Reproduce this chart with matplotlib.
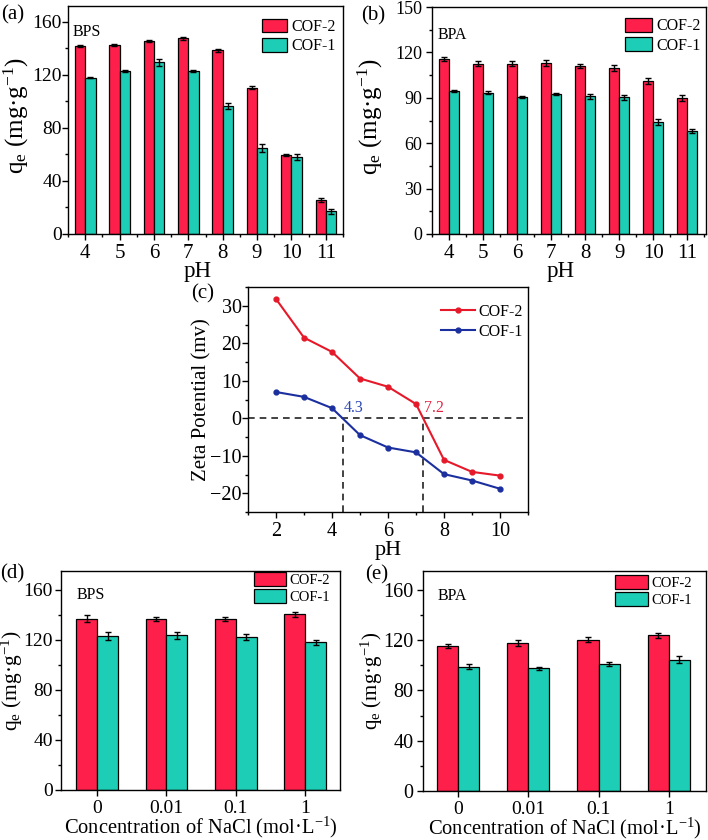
import matplotlib
matplotlib.use('Agg')
import matplotlib.pyplot as plt
import numpy as np
from matplotlib.ticker import AutoMinorLocator, MultipleLocator
from matplotlib.patches import Patch

plt.rcParams['font.family'] = ['Liberation Serif', 'DejaVu Serif']
plt.rcParams['mathtext.fontset'] = 'custom'
plt.rcParams['mathtext.rm'] = 'Liberation Serif'
plt.rcParams['mathtext.it'] = 'Liberation Serif:italic'
plt.rcParams['mathtext.default'] = 'rm'
plt.rcParams['axes.linewidth'] = 1.0

# ---------------- data ----------------
ph_bar = [4, 5, 6, 7, 8, 9, 10, 11]
bps_cof2 = [141.5, 142.5, 145.5, 147.5, 138.5, 110.5, 59.5, 26.0]
bps_cof2_err = [0.8, 0.8, 1.0, 1.0, 1.0, 1.0, 0.8, 1.5]
bps_cof1 = [118.0, 123.0, 129.5, 123.0, 96.5, 65.0, 58.0, 17.0]
bps_cof1_err = [0.6, 0.6, 2.5, 1.0, 2.5, 3.0, 2.5, 2.0]

bpa_cof2 = [115.5, 112.5, 112.5, 113.3, 111.0, 109.5, 100.8, 90.0]
bpa_cof2_err = [1.5, 1.5, 1.5, 2.0, 1.5, 2.0, 2.0, 2.0]
bpa_cof1 = [94.5, 93.5, 90.5, 92.7, 91.0, 90.3, 74.0, 68.0]
bpa_cof1_err = [0.6, 1.0, 0.6, 0.6, 1.5, 1.5, 2.0, 1.2]

ph_zeta = [2, 3, 4, 5, 6, 7, 8, 9, 10]
zeta_cof2 = [31.8, 21.5, 17.7, 10.6, 8.4, 3.8, -11.1, -14.3, -15.3]
zeta_cof1 = [7.0, 5.7, 2.7, -4.5, -7.8, -9.1, -14.9, -16.6, -18.8]
pzc_cof1 = 4.4
pzc_cof2 = 7.25
pzc_labels = ['4.3', '7.2']

nacl_labels = ['0', '0.01', '0.1', '1']
nacl_bps_cof2 = [137.0, 136.5, 136.5, 140.5]
nacl_bps_cof2_err = [2.5, 1.5, 1.5, 2.0]
nacl_bps_cof1 = [123.0, 123.5, 122.5, 118.0]
nacl_bps_cof1_err = [3.5, 3.0, 2.5, 2.0]
nacl_bpa_cof2 = [115.5, 118.0, 120.3, 124.0]
nacl_bpa_cof2_err = [1.5, 2.5, 2.0, 2.0]
nacl_bpa_cof1 = [99.0, 97.5, 101.0, 104.5]
nacl_bpa_cof1_err = [2.0, 1.5, 1.5, 2.5]

series_names = ['COF-2', 'COF-1']

RED = '#FF1F4B'
TEAL = '#1ECDB5'
LRED = '#E5192A'
LBLUE = '#1B2F9E'

W, H = 708, 840
fig = plt.figure(figsize=(W / 100, H / 100), dpi=100)


def add_ax(l, t, r, b):
    return fig.add_axes([l / W, 1 - b / H, (r - l) / W, (b - t) / H])


def style(ax, xfs, yfs, xpad, ypad):
    ax.tick_params(which='both', direction='out', top=False, right=False,
                   width=1.0)
    ax.tick_params(axis='x', labelsize=xfs, pad=xpad)
    ax.tick_params(axis='y', labelsize=yfs, pad=ypad)
    ax.tick_params(which='major', length=4)
    ax.tick_params(which='minor', length=2.2)


YLAB = r'q$_\mathrm{e}$ (mg·g$^{\mathrm{-1}}$)'


def bar_panel(ax, x, c2, c2e, c1, c1e, xticklabels, ylim, ymajor, xlim, tag,
              tagpos, legpos, legsize, hl, hh, ls):
    x = np.asarray(x, dtype=float)
    w = 0.3
    ekw = dict(elinewidth=1.0, capthick=1.0, ecolor='black')
    ax.bar(x - w / 2, c2, w, color=RED, edgecolor='black', linewidth=0.9,
           yerr=c2e, capsize=2.5, error_kw=ekw, zorder=2)
    ax.bar(x + w / 2, c1, w, color=TEAL, edgecolor='black', linewidth=0.9,
           yerr=c1e, capsize=2.5, error_kw=ekw, zorder=2)
    ax.set_xlim(*xlim)
    ax.set_ylim(*ylim)
    ax.set_xticks(x)
    ax.set_xticklabels(xticklabels)
    ax.yaxis.set_major_locator(MultipleLocator(ymajor))
    ax.yaxis.set_minor_locator(AutoMinorLocator(2))
    ax.text(tagpos[0], tagpos[1], tag, transform=ax.transAxes, fontsize=11.5,
            va='center', ha='left')
    handles = [Patch(facecolor=RED, edgecolor='black', linewidth=0.9),
               Patch(facecolor=TEAL, edgecolor='black', linewidth=0.9)]
    ax.legend(handles, series_names, loc='upper left', bbox_to_anchor=legpos,
              frameon=False, fontsize=legsize, borderpad=0, borderaxespad=0,
              handlelength=hl, handleheight=hh, handletextpad=0.25,
              labelspacing=ls)


# (a)
axa = add_ax(68, 6, 343, 234)
bar_panel(axa, ph_bar, bps_cof2, bps_cof2_err, bps_cof1, bps_cof1_err,
          [str(p) for p in ph_bar], (0, 172), 40, (3.65, 11.5), 'BPS',
          (0.015, 0.885), (0.705, 0.945), 11.5, 1.6, 0.95, 0.2)
axa.set_xticks(np.arange(3.5, 11.6, 1.0), minor=True)
style(axa, 15, 14, 3.5, 0.5)
axa.set_ylabel(YLAB, fontsize=18)
axa.yaxis.set_label_coords(-0.135, 0.52)
axa.set_xlabel('pH', fontsize=16.5)
axa.xaxis.set_label_coords(0.47, -0.118)

# (b)
axb = add_ax(432, 7, 706, 234)
bar_panel(axb, ph_bar, bpa_cof2, bpa_cof2_err, bpa_cof1, bpa_cof1_err,
          [str(p) for p in ph_bar], (0, 150), 30, (3.65, 11.55), 'BPA',
          (0.02, 0.876), (0.704, 0.952), 11.5, 1.7, 0.95, 0.2)
axb.set_xticks(np.arange(3.5, 11.6, 1.0), minor=True)
style(axb, 15, 13, 3.5, 3)
axb.set_ylabel(YLAB, fontsize=18)
axb.yaxis.set_label_coords(-0.17, 0.52)
axb.set_xlabel('pH', fontsize=16.5)
axb.xaxis.set_label_coords(0.47, -0.118)

# (c)
axc = add_ax(248, 287, 528, 512)
axc.plot(ph_zeta, zeta_cof2, '-o', color=LRED, lw=1.5, ms=3.5,
         mfc=LRED, mec=LRED, label=series_names[0], zorder=3)
axc.plot(ph_zeta, zeta_cof1, '-o', color=LBLUE, lw=1.5, ms=3.5,
         mfc=LBLUE, mec=LBLUE, label=series_names[1], zorder=3)
axc.set_xlim(1, 11)
axc.set_ylim(-25, 35)
axc.axhline(0, color='#222222', lw=1.2, ls=(0, (4, 3)), zorder=1)
axc.plot([pzc_cof1, pzc_cof1], [-25, 0], color='#222222', lw=1.2,
         ls=(0, (4, 3)), zorder=1)
axc.plot([pzc_cof2, pzc_cof2], [-25, 0], color='#222222', lw=1.2,
         ls=(0, (4, 3)), zorder=1)
axc.text(pzc_cof1 + 0.02, 2.8, pzc_labels[0], color='#2A45B5', fontsize=11.5,
         va='center', ha='left')
axc.text(pzc_cof2 + 0.05, 2.8, pzc_labels[1], color='#E52040', fontsize=11.5,
         va='center', ha='left')
axc.xaxis.set_major_locator(MultipleLocator(2))
axc.xaxis.set_minor_locator(AutoMinorLocator(2))
axc.set_yticks([-20, -10, 0, 10, 20, 30])
axc.yaxis.set_minor_locator(AutoMinorLocator(2))
style(axc, 14.5, 14.5, 3.5, 0.5)
axc.set_xlabel('pH', fontsize=16)
axc.xaxis.set_label_coords(0.5, -0.13)
axc.set_ylabel('Zeta Potential (mv)', fontsize=15)
axc.yaxis.set_label_coords(-0.13, 0.5)
axc.legend(loc='upper left', bbox_to_anchor=(0.69, 0.925), frameon=False,
           fontsize=11.5, borderpad=0, borderaxespad=0, handlelength=2.1,
           handletextpad=0.2, labelspacing=0.25)

# (d)
axd = add_ax(61, 571, 340, 790)
xn = np.arange(len(nacl_labels))
bar_panel(axd, xn, nacl_bps_cof2, nacl_bps_cof2_err, nacl_bps_cof1,
          nacl_bps_cof1_err, nacl_labels, (0, 175), 40, (-0.52, 3.5), 'BPS',
          (0.057, 0.89), (0.69, 0.995), 10.5, 2.2, 1.1, 0.12)
style(axd, 14, 14, 3.0, 2)
axd.set_ylabel(YLAB, fontsize=15.5)
axd.yaxis.set_label_coords(-0.13, 0.5)
axd.set_xlabel('Concentration of NaCl (mol·L$^{\\mathrm{-1}}$)', fontsize=14.8)
axd.xaxis.set_label_coords(0.5, -0.115)

# (e)
axe = add_ax(423, 571, 706, 791)
bar_panel(axe, xn, nacl_bpa_cof2, nacl_bpa_cof2_err, nacl_bpa_cof1,
          nacl_bpa_cof1_err, nacl_labels, (0, 175), 40, (-0.5, 3.53), 'BPA',
          (0.05, 0.885), (0.68, 0.98), 10.5, 2.2, 1.1, 0.12)
style(axe, 14, 14.5, 3.0, 3)
axe.set_ylabel(YLAB, fontsize=15)
axe.yaxis.set_label_coords(-0.135, 0.5)
axe.set_xlabel('Concentration of NaCl (mol·L$^{\\mathrm{-1}}$)', fontsize=14.8)
axe.xaxis.set_label_coords(0.5, -0.112)

# panel labels
for lab, px, py in [('(a)', 1, 15), ('(b)', 361, 16), ('(c)', 191, 294),
                    ('(d)', 0, 574), ('(e)', 365, 575)]:
    fig.text(px / W, 1 - py / H, lab, fontsize=15, va='center', ha='left')

fig.savefig('out.png', dpi=100)
